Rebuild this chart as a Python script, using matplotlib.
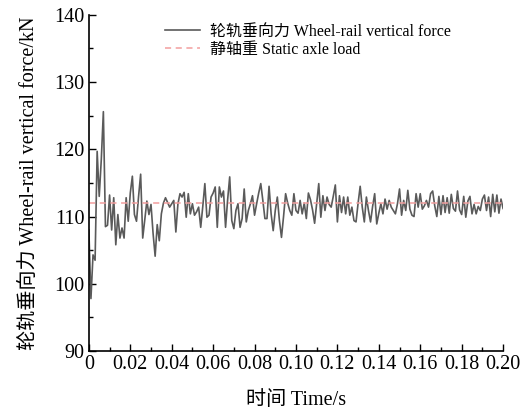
import numpy as np
import matplotlib
matplotlib.use("Agg")
import matplotlib.pyplot as plt
from matplotlib.ticker import MultipleLocator

plt.rcParams['font.family'] = ['Liberation Serif', 'Noto Sans CJK SC']

# wheel-rail vertical force, sampled every 1 ms over 0-0.2 s
dt = 0.001
force = [
    108.0, 97.8, 104.3, 103.5, 119.7, 113.0, 118.5, 125.6, 108.5, 108.7,
    113.2, 108.0, 112.8, 105.8, 110.3, 106.8, 108.3, 106.8, 112.8, 109.3,
    113.5, 116.0, 110.3, 109.3, 113.0, 116.3, 106.8, 109.5, 112.3, 110.3,
    111.8, 107.5, 104.1, 108.8, 106.4, 110.4, 112.0, 112.8, 112.1, 111.4,
    111.9, 112.4, 107.7, 111.9, 113.4, 112.9, 113.6, 109.9, 113.4, 110.4,
    111.9, 110.2, 110.7, 111.4, 108.4, 111.5, 114.9, 109.9, 110.2, 112.9,
    113.5, 114.4, 108.4, 114.4, 112.9, 113.8, 108.4, 112.5, 115.9, 109.4,
    108.2, 110.9, 111.9, 108.4, 109.7, 114.1, 109.2, 110.9, 111.9, 113.1,
    110.2, 111.9, 113.5, 114.9, 112.4, 109.7, 109.7, 114.5, 110.4, 107.9,
    110.9, 112.9, 109.4, 106.9, 110.0, 113.4, 112.0, 110.9, 110.2, 113.4,
    110.9, 110.5, 112.4, 110.4, 112.0, 109.7, 113.5, 112.5, 111.0, 109.0,
    112.0, 114.9, 109.9, 113.1, 110.9, 112.9, 111.8, 111.4, 113.0, 114.7,
    109.2, 113.1, 110.6, 112.9, 110.4, 112.9, 110.2, 111.4, 109.4, 109.2,
    112.0, 114.5, 111.4, 109.2, 112.9, 110.9, 109.2, 111.5, 113.4, 108.9,
    110.5, 111.9, 110.4, 112.6, 111.1, 112.4, 111.4, 110.9, 110.4, 111.9,
    114.1, 110.2, 112.4, 110.9, 113.9, 111.1, 110.2, 110.0, 113.4, 111.4,
    113.4, 111.1, 111.6, 112.4, 111.4, 113.4, 113.8, 111.6, 110.0, 113.0,
    110.3, 113.1, 110.6, 112.8, 110.5, 113.3, 111.2, 110.8, 113.8, 111.0,
    110.3, 113.0, 109.9, 112.3, 113.0, 110.4, 111.8, 110.4, 111.5, 110.9,
    112.6, 113.2, 110.9, 112.9, 110.0, 113.3, 110.7, 113.2, 110.5, 112.6,
    111.2,
]
static_load = 112.0
time = np.arange(len(force)) * dt

xticks = np.arange(0, 0.201, 0.02)
xticklabels = ['0'] + ['%.2f' % v for v in xticks[1:]]

fig = plt.figure(figsize=(5.29, 4.12), dpi=100)
ax = fig.add_axes([0.168, 0.148, 0.783, 0.816])

ax.plot(time, force, color='#5a5a5a', lw=1.2,
        label='轮轨垂向力 Wheel-rail vertical force')
ax.axhline(static_load, color='#f29e9e', lw=1.1, ls=(0, (4, 3)),
           label='静轴重 Static axle load')

ax.set_xlim(0, 0.2)
ax.set_ylim(90, 140)
ax.set_xticks(xticks)
ax.set_xticklabels(xticklabels)
ax.xaxis.set_minor_locator(MultipleLocator(0.01))
ax.yaxis.set_major_locator(MultipleLocator(10))
ax.yaxis.set_minor_locator(MultipleLocator(5))

ax.tick_params(which='both', direction='in', labelsize=14.5, width=1.0)
ax.tick_params(which='major', length=5, pad=3)
ax.tick_params(which='minor', length=3)
ax.spines['top'].set_visible(False)
ax.spines['right'].set_visible(False)
ax.spines['left'].set_linewidth(1.2)
ax.spines['bottom'].set_linewidth(1.2)

ax.set_xlabel('时间 Time/s', fontsize=14.5, labelpad=12)
ax.set_ylabel('轮轨垂向力 Wheel-rail vertical force/kN', fontsize=14.5, labelpad=11)

ax.legend(loc='upper right', frameon=False, fontsize=11.5,
          bbox_to_anchor=(0.908, 1.017), handlelength=2.2,
          handletextpad=0.6, labelspacing=0.15)

fig.savefig('out.png', dpi=100)
